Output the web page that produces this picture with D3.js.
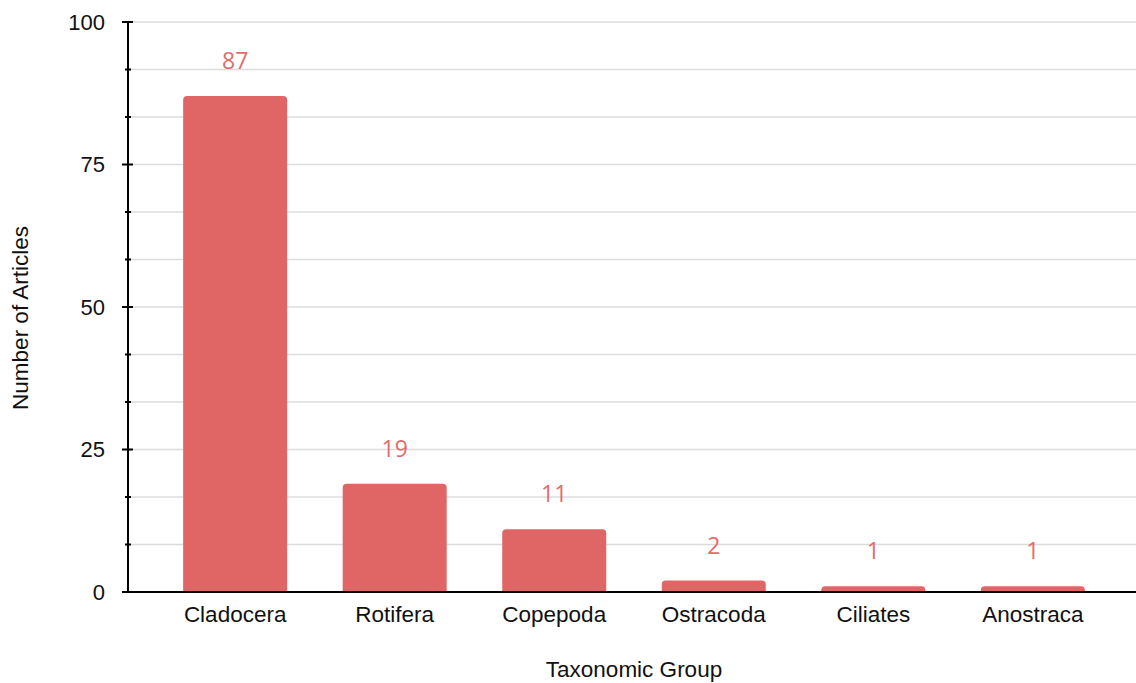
<!DOCTYPE html>
<html><head><meta charset="utf-8">
<script src="https://cdn.jsdelivr.net/npm/d3@7"></script>
<style>
html,body{margin:0;padding:0;background:#fff;}
svg{display:block;}
</style></head>
<body>
<svg id="chart" width="1136" height="683"></svg>
<script>
const categories = ["Cladocera","Rotifera","Copepoda","Ostracoda","Ciliates","Anostraca"];
const values = [87,19,11,2,1,1];
const yTickLabels = [0,25,50,75,100];

const W = 1136, H = 683;
const m = {left:128, right:0, top:22, bottom:91};
const svg = d3.select("#chart");

const x = d3.scaleBand().domain(categories).range([130.5, 1137.5]).paddingInner(0.348).paddingOuter(0.33);
const y = d3.scaleLinear().domain([0,100]).range([H - m.bottom, m.top]);

const minor = d3.range(0, 100.001, 100/12);

// gridlines
svg.append("g").selectAll("line").data(minor).join("line")
  .attr("x1", m.left).attr("x2", W)
  .attr("y1", d => y(d)).attr("y2", d => y(d))
  .attr("stroke", "#dcdcdc").attr("stroke-width", 1.5);

// bars with rounded tops
const r = 4;
svg.append("g").selectAll("path").data(categories).join("path")
  .attr("fill", "#e06666")
  .attr("d", (c, i) => {
    const x0 = x(c), w = x.bandwidth(), y0 = y(values[i]), yb = y(0);
    const rr = Math.min(r, (yb - y0));
    return `M${x0},${yb} L${x0},${y0+rr} Q${x0},${y0} ${x0+rr},${y0} L${x0+w-rr},${y0} Q${x0+w},${y0} ${x0+w},${y0+rr} L${x0+w},${yb} Z`;
  });

// value labels
svg.append("g").selectAll("text").data(categories).join("text")
  .attr("x", c => x(c) + x.bandwidth()/2)
  .attr("y", (c, i) => y(values[i]) - 27)
  .attr("text-anchor", "middle")
  .attr("font-family", "'Open Sans', 'Noto Sans', sans-serif")
  .attr("font-size", 23)
  .attr("fill", "#e36b6b")
  .text((c, i) => values[i]);

// y axis
const ya = svg.append("g").attr("transform", `translate(${m.left},0)`);
ya.append("line").attr("x1",0).attr("x2",0).attr("y1",y(100)).attr("y2",y(0)).attr("stroke","#000").attr("stroke-width",2);
ya.selectAll(".mt").data(minor).join("line")
  .attr("x1", d => (d % 25 < 0.01 || 25 - (d % 25) < 0.01) ? -6 : -3)
  .attr("x2", d => (d % 25 < 0.01 || 25 - (d % 25) < 0.01) ? 5 : 3)
  .attr("y1", d => y(d)).attr("y2", d => y(d))
  .attr("stroke","#000").attr("stroke-width",2);
ya.selectAll("text").data(yTickLabels).join("text")
  .attr("x", -23).attr("y", d => y(d)).attr("dy","0.35em")
  .attr("text-anchor","end")
  .attr("font-family","'Liberation Sans', Arial, sans-serif")
  .attr("font-size", 22).attr("fill","#111")
  .text(d => d);

// x axis
const xa = svg.append("g");
xa.append("line").attr("x1", m.left - 6).attr("x2", W).attr("y1", y(0)).attr("y2", y(0)).attr("stroke","#000").attr("stroke-width",2);
xa.selectAll("text").data(categories).join("text")
  .attr("x", c => x(c) + x.bandwidth()/2).attr("y", y(0) + 30)
  .attr("text-anchor","middle")
  .attr("font-family","'Liberation Sans', Arial, sans-serif")
  .attr("font-size", 22.5).attr("fill","#111")
  .text(c => c);

// axis titles
svg.append("text").attr("x", 634).attr("y", 677)
  .attr("text-anchor","middle")
  .attr("font-family","'Liberation Sans', Arial, sans-serif")
  .attr("font-size", 22.5).attr("fill","#111")
  .text("Taxonomic Group");
svg.append("text").attr("transform", `translate(28,${(y(0)+y(100))/2 + 11}) rotate(-90)`)
  .attr("text-anchor","middle")
  .attr("font-family","'Liberation Sans', Arial, sans-serif")
  .attr("font-size", 22.5).attr("fill","#111")
  .text("Number of Articles");
</script>
</body></html>
